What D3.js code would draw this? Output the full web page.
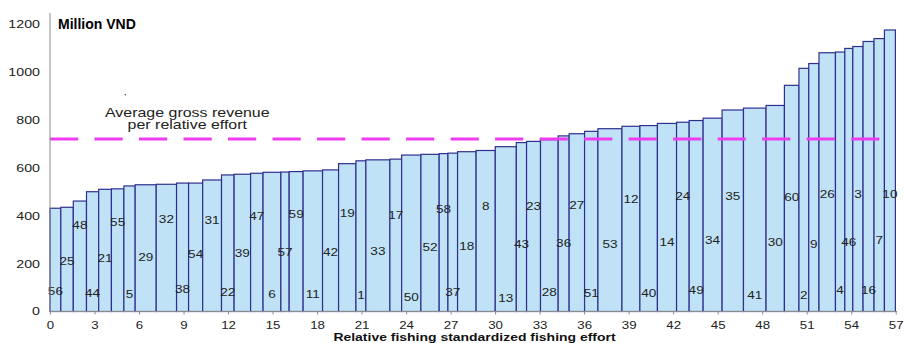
<!DOCTYPE html>
<html>
<head>
<meta charset="utf-8">
<script src="https://cdn.jsdelivr.net/npm/d3@7"></script>
<style>
  html, body { margin: 0; padding: 0; background: #fff; }
  svg { display: block; font-family: "Liberation Sans", Arial, sans-serif; }
</style>
</head>
<body>
<svg id="chart" width="905" height="343"></svg>
<script>
// ---- data ----
const vessels = [56,25,48,44,21,55,5,29,32,38,54,31,22,39,47,6,57,59,11,42,19,1,33,17,50,52,58,37,18,8,13,43,23,28,36,27,51,53,12,40,14,24,49,34,35,41,30,60,2,9,26,4,46,3,16,7,10];
const effort = [0.73,0.84,0.89,0.82,0.86,0.84,0.76,1.42,1.37,0.81,0.95,1.27,0.85,1.11,0.84,1.20,0.56,0.94,1.31,1.08,1.17,0.67,1.62,0.79,1.30,1.23,0.59,0.65,1.25,1.29,1.42,0.69,0.94,1.19,0.74,1.04,0.90,1.62,1.21,1.18,1.29,0.85,0.94,1.28,1.44,1.52,1.24,0.98,0.66,0.69,1.11,0.63,0.54,0.69,0.74,0.70,0.74];
const revenue = [431,435,461,500,510,512,524,529,531,536,536,549,570,573,577,581,582,584,587,591,617,629,633,636,653,656,659,661,667,672,688,705,710,717,733,742,752,763,773,776,785,790,797,807,841,849,860,944,1015,1035,1080,1083,1098,1106,1127,1139,1175];
const labelValue = [83,208,358,76,220,371,72,226,382,90,236,379,78,240,396,69,247,403,72,247,410,66,252,399,58,266,427,78,270,437,55,278,436,78,285,440,76,278,465,76,289,479,86,294,479,66,289,477,66,280,490,86,289,490,86,294,490];
const averageRevenue = 720;
const xTicks = [0,3,6,9,12,15,18,21,24,27,30,33,36,39,42,45,48,51,54,57];
const yTicks = [0,200,400,600,800,1000,1200];
const titleText = "Million VND";
const xTitle = "Relative fishing standardized fishing effort";
const noteLines = ["Average gross revenue", "per relative effort"];

// ---- build ----
const svg = d3.select("#chart");
const SX = 1.33; // horizontal stretch of the original picture's text
const x = d3.scaleLinear().domain([0, 57]).range([50, 895.7]);
const y = d3.scaleLinear().domain([0, 1200]).range([311.5, 24]);

let acc = 0;
const bars = vessels.map((v, i) => {
  const b = { id: v, x0: acc, x1: acc + effort[i], value: revenue[i], lv: labelValue[i] };
  acc += effort[i];
  return b;
});

// bars
svg.append("g").selectAll("rect").data(bars).join("rect")
  .attr("x", d => x(d.x0))
  .attr("y", d => y(d.value))
  .attr("width", d => x(d.x1) - x(d.x0))
  .attr("height", d => y(0) - y(d.value))
  .attr("fill", "#bfe2f6")
  .attr("stroke", "#2f2f8f")
  .attr("stroke-width", 1.2);

// vessel labels
svg.append("g").selectAll("text").data(bars).join("text")
  .attr("transform", d => `translate(${(x(d.x0) + x(d.x1)) / 2},${y(d.lv)}) scale(${SX},1)`)
  .attr("text-anchor", "middle")
  .attr("dominant-baseline", "central")
  .attr("font-size", 10.2)
  .attr("fill", "#222")
  .text(d => d.id);

// average line
svg.append("line")
  .attr("x1", x(0)).attr("x2", x(55.9))
  .attr("y1", y(averageRevenue)).attr("y2", y(averageRevenue))
  .attr("stroke", "#ee3cee")
  .attr("stroke-width", 3)
  .attr("stroke-dasharray", `${x(1.9) - x(0)},${x(3) - x(1.9)}`);

// x axis
const gx = svg.append("g").attr("transform", `translate(0,${y(0)})`)
  .call(d3.axisBottom(x).tickValues(xTicks).tickFormat(d3.format("d")).tickSize(3).tickPadding(7).tickSizeOuter(0));
gx.select(".domain").attr("stroke", "#8a8a8a").attr("d", `M${x(0)},0H897`);
gx.selectAll(".tick line").attr("stroke", "#8a8a8a");
gx.selectAll(".tick text")
  .attr("font-size", 10)
  .attr("fill", "#222")
  .attr("font-family", "Liberation Sans, Arial, sans-serif")
  .attr("transform", `scale(${SX},1)`);

// y axis
const gy = svg.append("g").attr("transform", `translate(${x(0)},0)`)
  .call(d3.axisLeft(y).tickValues(yTicks).tickFormat(d3.format("d")).tickSize(0).tickPadding(10 / SX));
gy.select(".domain").remove();
gy.append("line").attr("x1", 0).attr("x2", 0).attr("y1", y(0)).attr("y2", 13)
  .attr("stroke", "#8a8a8a");
gy.selectAll(".tick text")
  .attr("font-size", 10.7)
  .attr("fill", "#222")
  .attr("font-family", "Liberation Sans, Arial, sans-serif")
  .attr("transform", `scale(${SX},1)`);

// title
svg.append("text")
  .attr("x", 58).attr("y", 29.3)
  .attr("font-size", 14).attr("font-weight", "bold").attr("fill", "#000")
  .text(titleText);

// annotation
svg.append("g").selectAll("text").data(noteLines).join("text")
  .attr("transform", (d, i) => `translate(187.3,${117.3 + i * 12}) scale(${SX},1)`)
  .attr("text-anchor", "middle")
  .attr("font-size", 12)
  .attr("fill", "#222")
  .text(d => d);
svg.append("circle").attr("cx", 125.3).attr("cy", 94.7).attr("r", 0.8).attr("fill", "#444");

// x title
svg.append("text")
  .attr("transform", `translate(474.5,340.8) scale(${SX},1)`)
  .attr("text-anchor", "middle")
  .attr("font-size", 10.5).attr("font-weight", "bold").attr("fill", "#111")
  .text(xTitle);
</script>
</body>
</html>
